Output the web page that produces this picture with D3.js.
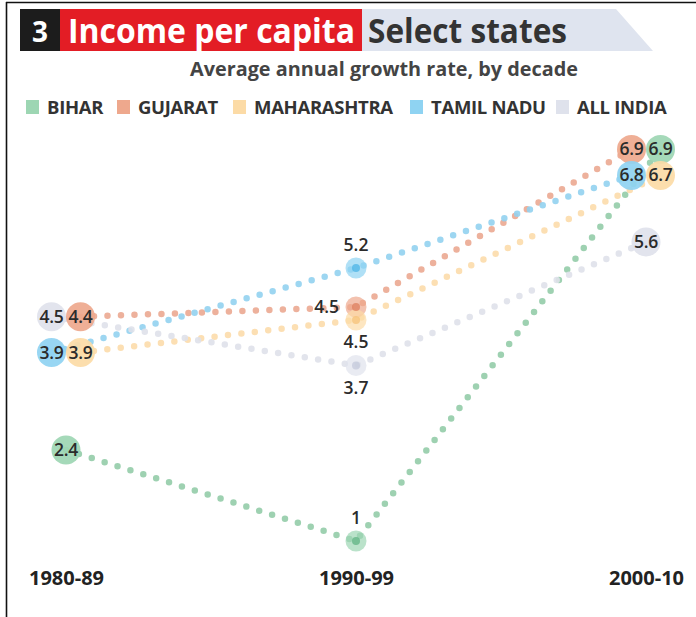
<!DOCTYPE html>
<html>
<head>
<meta charset="utf-8">
<script src="https://cdn.jsdelivr.net/npm/d3@7"></script>
<style>
  html, body { margin: 0; padding: 0; background: #fff; }
  svg { display: block; font-family: "Open Sans", "Noto Sans", sans-serif; }
</style>
</head>
<body>
<svg id="chart" width="696" height="617"></svg>
<script>
// Decades on the x axis
const decades = ["1980-89", "1990-99", "2000-10"];

// Average annual growth rate of income per capita (%), one value per decade
const bihar       = [2.4, 1.0, 6.9];
const gujarat     = [4.4, 4.5, 6.9];
const maharashtra = [3.9, 4.5, 6.7];
const tamilNadu   = [3.9, 5.2, 6.8];
const allIndia    = [4.5, 3.7, 5.6];

const stateNames = ["BIHAR", "GUJARAT", "MAHARASHTRA", "TAMIL NADU", "ALL INDIA"];
const stateValues = [bihar, gujarat, maharashtra, tamilNadu, allIndia];

// Palette: marker fill, dotted-line colour and marker core per state
const markerColors = ["#9dd6b3", "#eea88d", "#fcdba6", "#8fd3f2", "#dfe2ec"];
const dotColors    = ["#93cca9", "#eba991", "#fcdcab", "#92d1ef", "#dfe1ea"];
const innerColors  = ["#5fb383", "#dd7d5e", "#f6c277", "#4cb4e6", "#c4c9db"];

// Where the value label sits for the middle decade
const midLabelSide = { "BIHAR": "above", "GUJARAT": "left", "MAHARASHTRA": "below",
                       "TAMIL NADU": "above", "ALL INDIA": "below" };

const svg = d3.select("#chart");
const W = 696, H = 617;

// ---- frame ----
svg.append("line").attr("x1", 6).attr("x2", W).attr("y1", 2.5).attr("y2", 2.5)
   .attr("stroke", "#111").attr("stroke-width", 1.6);
svg.append("line").attr("x1", 6.5).attr("x2", 6.5).attr("y1", 2).attr("y2", H)
   .attr("stroke", "#111").attr("stroke-width", 1.6);

// ---- header band ----
const head = svg.append("g");
head.append("path")
    .attr("d", "M362,9 L616,9 L653,51 L362,51 Z")
    .attr("fill", "#dfe4ef");
head.append("rect").attr("x", 20).attr("y", 9).attr("width", 40).attr("height", 42).attr("fill", "#1c1c1c");
head.append("rect").attr("x", 60).attr("y", 9).attr("width", 302).attr("height", 42).attr("fill", "#e31d25");
head.append("text").attr("x", 40).attr("y", 42).attr("text-anchor", "middle")
    .attr("fill", "#fff").attr("font-size", 28).attr("font-weight", 700).text("3");
head.append("text").attr("x", 68).attr("y", 43)
    .attr("fill", "#fff").attr("font-size", 34).attr("font-weight", 700)
    .attr("textLength", 287).attr("lengthAdjust", "spacingAndGlyphs")
    .text("Income per capita");
head.append("text").attr("x", 368).attr("y", 43)
    .attr("fill", "#333").attr("font-size", 34).attr("font-weight", 700)
    .attr("textLength", 199).attr("lengthAdjust", "spacingAndGlyphs")
    .text("Select states");

svg.append("text").attr("x", 190).attr("y", 76)
   .attr("fill", "#444").attr("font-size", 20).attr("font-weight", 700)
   .attr("textLength", 388).attr("lengthAdjust", "spacingAndGlyphs")
   .text("Average annual growth rate, by decade");

// ---- legend ----
const legend = svg.append("g").attr("transform", "translate(0,107)");
const legendX = [26, 117, 233, 410, 556];
stateNames.forEach((name, i) => {
  const g = legend.append("g").attr("transform", `translate(${legendX[i]},0)`);
  g.append("rect").attr("x", 0).attr("y", -7).attr("width", 13).attr("height", 14)
   .attr("fill", markerColors[i]);
  g.append("text").attr("x", 21).attr("y", 7)
   .attr("fill", "#333").attr("font-size", 18.5).attr("font-weight", 700)
   .attr("letter-spacing", -0.3).text(name);
});

// ---- scales ----
const x = d3.scalePoint().domain(decades).range([66, 646]);
const y = d3.scaleLinear().domain([1, 7]).range([541, 151]);

// ---- markers: one node per state and decade ----
const endR = 14.5, midR = 10.5;
const nodes = [];
decades.forEach((dec, j) => {
  const isMid = j === 1;
  const col = stateValues.map((vals, i) => ({
    i, j, v: vals[j], name: stateNames[i], x: x(dec), y: y(vals[j])
  }));
  // Higher values first; equal values ordered so neighbours read well
  col.sort((a, b) => d3.descending(a.v, b.v) || (isMid ? a.i - b.i : b.i - a.i));

  // Group colliding markers into rows (two per row at the ends, one in the middle)
  const perRow = isMid ? 1 : 2;
  const minGap = isMid ? 13 : 26;
  const rows = [];
  col.forEach(n => {
    const row = rows[rows.length - 1];
    if (row && row.items.length < perRow && Math.abs(n.y - row.items[0].y) < 2 * endR) {
      row.items.push(n);
    } else {
      rows.push({ items: [n] });
    }
  });
  rows.forEach(r => { r.y = d3.mean(r.items, n => n.y); });
  // Spread rows that sit too close together, symmetrically
  for (let k = 1; k < rows.length; k++) {
    const gap = rows[k].y - rows[k - 1].y;
    if (gap < minGap) {
      const push = (minGap - gap) / 2;
      rows[k - 1].y -= push;
      rows[k].y += push;
    }
  }
  rows.forEach(r => {
    const m = r.items.length;
    r.items.forEach((n, q) => {
      n.x = x(dec) + (q - (m - 1) / 2) * 2 * endR;
      n.y = m > 1 || isMid ? r.y : n.y;
      nodes.push(n);
    });
  });
});

const byState = stateNames.map((_, i) =>
  nodes.filter(n => n.i === i).sort((a, b) => a.j - b.j));

// ---- dotted connecting lines ----
const line = d3.line().x(d => d.x).y(d => d.y);
svg.append("g").selectAll("path").data(byState).join("path")
  .attr("d", line)
  .attr("fill", "none")
  .attr("stroke", (d, i) => dotColors[i])
  .attr("stroke-width", 6.5)
  .attr("stroke-linecap", "round")
  .attr("stroke-dasharray", "0 13.5")
  .attr("opacity", 0.9);

// ---- middle-decade markers: soft halo with a darker core ----
const mid = nodes.filter(n => n.j === 1);
const midG = svg.append("g");
midG.selectAll("circle.halo").data(mid).join("circle")
  .attr("class", "halo")
  .attr("cx", d => d.x).attr("cy", d => d.y).attr("r", midR)
  .attr("fill", d => markerColors[d.i]).attr("opacity", 0.7);
midG.selectAll("circle.core").data(mid).join("circle")
  .attr("class", "core")
  .attr("cx", d => d.x).attr("cy", d => d.y).attr("r", 4)
  .attr("fill", d => innerColors[d.i]).attr("opacity", 0.75);

const fmt = v => (Number.isInteger(v) ? d3.format("d")(v) : d3.format(".1f")(v));

midG.selectAll("text").data(mid).join("text")
  .attr("x", d => midLabelSide[d.name] === "left" ? d.x - 17 : d.x)
  .attr("y", d => {
    const s = midLabelSide[d.name];
    return s === "above" ? d.y - 17 : s === "below" ? d.y + 28 : d.y + 6;
  })
  .attr("text-anchor", d => midLabelSide[d.name] === "left" ? "end" : "middle")
  .attr("fill", "#2b2b2b").attr("font-size", 17.5).attr("font-weight", 600)
  .text(d => fmt(d.v));

// ---- end-decade markers: filled circles with the value inside ----
const ends = nodes.filter(n => n.j !== 1).sort((a, b) => a.y - b.y);
const endG = svg.append("g").selectAll("g").data(ends).join("g")
  .attr("transform", d => `translate(${d.x},${d.y})`);
endG.append("circle").attr("r", endR)
  .attr("fill", d => markerColors[d.i]).attr("opacity", 0.92);
endG.append("text").attr("y", 6).attr("text-anchor", "middle")
  .attr("fill", "#2b2b2b").attr("font-size", 17.5).attr("font-weight", 600)
  .attr("letter-spacing", -0.3)
  .text(d => fmt(d.v));

// ---- x axis labels ----
const axis = svg.append("g").attr("transform", "translate(0,571)")
  .call(d3.axisBottom(x).tickSize(0).tickPadding(0));
axis.select(".domain").remove();
axis.selectAll("text")
  .attr("dy", "0.71em")
  .attr("fill", "#222").attr("font-size", 20).attr("font-weight", 700)
  .attr("font-family", "\"Open Sans\", sans-serif");
</script>
</body>
</html>
